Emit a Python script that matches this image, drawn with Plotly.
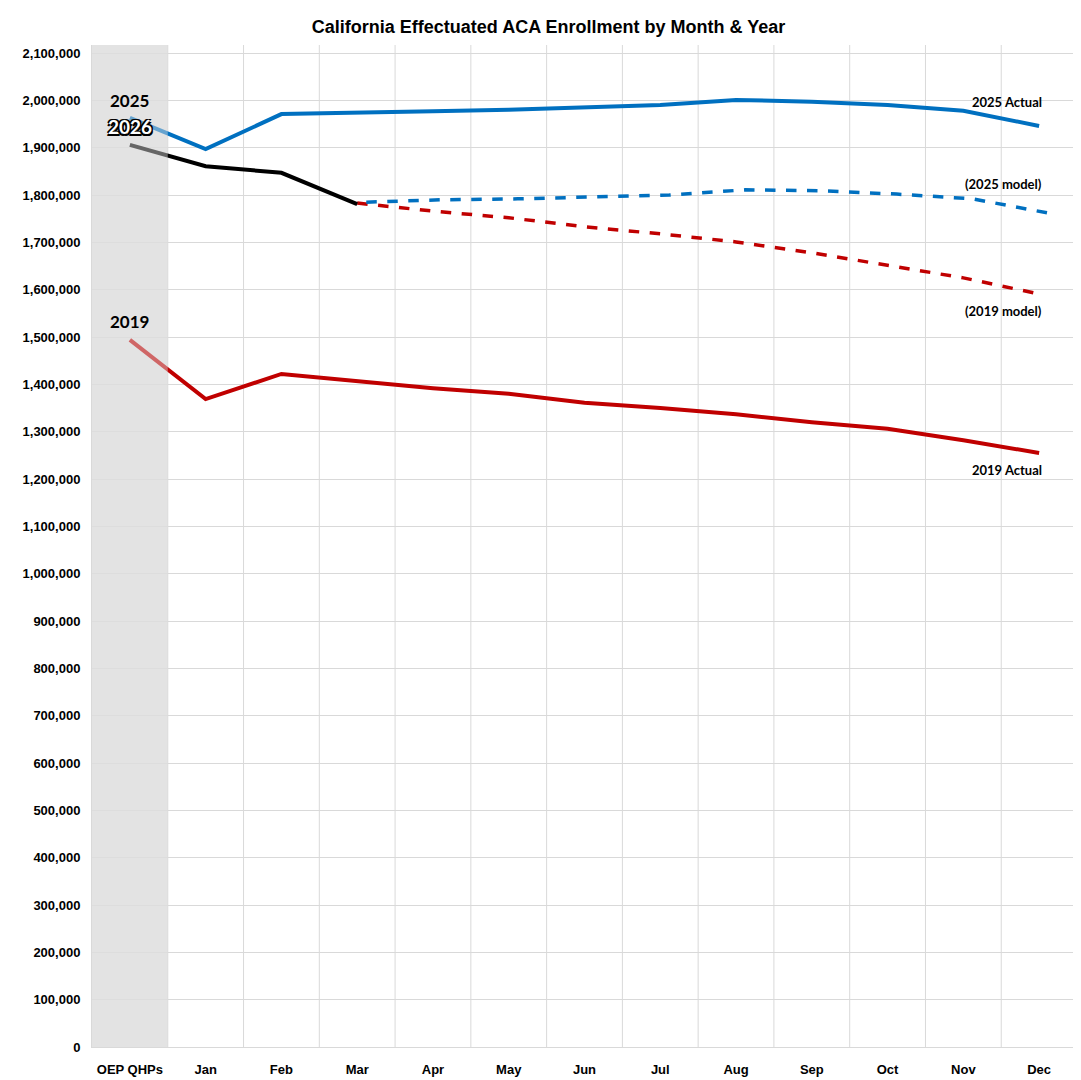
import plotly.graph_objects as go

months = ["OEP QHPs","Jan","Feb","Mar","Apr","May","Jun","Jul","Aug","Sep","Oct","Nov","Dec"]
y2025 = [1963000,1897000,1971000,1973000,1977000,1980000,1984000,1990000,2001000,1997000,1990000,1978000,1946000]
y2026 = [1906000,1861000,1847000,1781000]
y2025_model = [1785000,1790000,1792000,1796000,1800000,1811000,1809000,1802000,1792000,1762000]
y2019_model = [1783000,1766000,1752000,1733000,1718000,1701000,1678000,1652000,1625000,1591000]
y2019 = [1494000,1369000,1422000,1407000,1392000,1380000,1361000,1350000,1337000,1320000,1306000,1282000,1255000]

xi = list(range(len(months)))
BLUE = "#0070C0"; RED = "#C00000"

fig = go.Figure()
fig.add_trace(go.Scatter(x=xi[3:], y=y2019_model, mode="lines", line=dict(color=RED, width=3.5, dash="dash")))
fig.add_trace(go.Scatter(x=[x + 0.12 for x in xi[3:]], y=y2025_model, mode="lines", line=dict(color=BLUE, width=3.5, dash="dash")))
fig.add_trace(go.Scatter(x=xi, y=y2019, mode="lines", line=dict(color=RED, width=4)))
fig.add_trace(go.Scatter(x=xi, y=y2025, mode="lines", line=dict(color=BLUE, width=4)))
fig.add_trace(go.Scatter(x=xi[:4], y=y2026, mode="lines", line=dict(color="black", width=4)))

fig.add_shape(type="rect", xref="x", yref="paper", x0=-0.5, x1=0.5, y0=0, y1=1,
              fillcolor="#E3E3E3", line_width=0, layer="below")
fig.add_shape(type="rect", xref="x", yref="paper", x0=-0.5, x1=0.5, y0=0, y1=1,
              fillcolor="rgba(227,227,227,0.45)", line_width=0, layer="above")

lab = dict(family="Lato", size=13, color="black", weight="bold")
big = dict(family="Lato", size=17, color="black", weight="bold")
anns = [
    dict(x=12, y=y2025[-1], text="2025 Actual", yshift=24, font=lab),
    dict(x=12, y=y2025_model[-1], text="(2025 model)", yshift=29, font=lab),
    dict(x=12, y=y2019_model[-1], text="(2019 model)", yshift=-17, font=lab),
    dict(x=12, y=y2019[-1], text="2019 Actual", yshift=-17, font=lab),
    dict(x=0, y=y2025[0], text="2025", yshift=17, font=big),
    dict(x=0, y=y2019[0], text="2019", yshift=18, font=big),
    dict(x=0, y=y2026[0], text="2026", yshift=18,
         font=dict(family="Lato", size=19, color="white", weight="bold",
                   shadow="-1.5px -1.5px 0 #000, 1.5px -1.5px 0 #000, -1.5px 1.5px 0 #000, 1.5px 1.5px 0 #000")),
]
for a in anns:
    a.update(xref="x", yref="y", showarrow=False)
    if a["text"] in ("2025 Actual","(2025 model)","(2019 model)","2019 Actual"):
        a.update(xanchor="right", xshift=5)
    fig.add_annotation(**a)

fig.update_layout(
    width=1081, height=1080, showlegend=False,
    paper_bgcolor="white", plot_bgcolor="white",
    margin=dict(l=84, r=12, t=37, b=41, autoexpand=False),
    title=dict(text="California Effectuated ACA Enrollment by Month & Year", x=0.5, xanchor="center",
               y=0.983, yanchor="middle", font=dict(family="Liberation Sans", size=18, color="black", weight="bold")),
    font=dict(family="Liberation Sans", color="black"),
)
fig.update_xaxes(range=[-0.5, 12.5], tickmode="array", tickvals=xi, ticktext=months, automargin=False,
                 showgrid=False, zeroline=False, showline=True, linecolor="#D9D9D9",
                 tickfont=dict(size=13, weight="bold"), ticks="", ticklabelstandoff=10)
for i in range(1, 13):
    fig.add_shape(type="line", xref="x", yref="paper", x0=i - 0.5, x1=i - 0.5, y0=0, y1=1,
                  line=dict(color="#D9D9D9", width=1), layer="below")
fig.update_yaxes(range=[0, 2117000], dtick=100000, tickformat=",", showgrid=True, gridcolor="#D9D9D9",
                 zeroline=False, showline=True, linecolor="#D9D9D9", mirror=True, automargin=False,
                 tickfont=dict(size=13, weight="bold"), ticks="", ticklabelstandoff=8)
fig.write_html("out.html")
